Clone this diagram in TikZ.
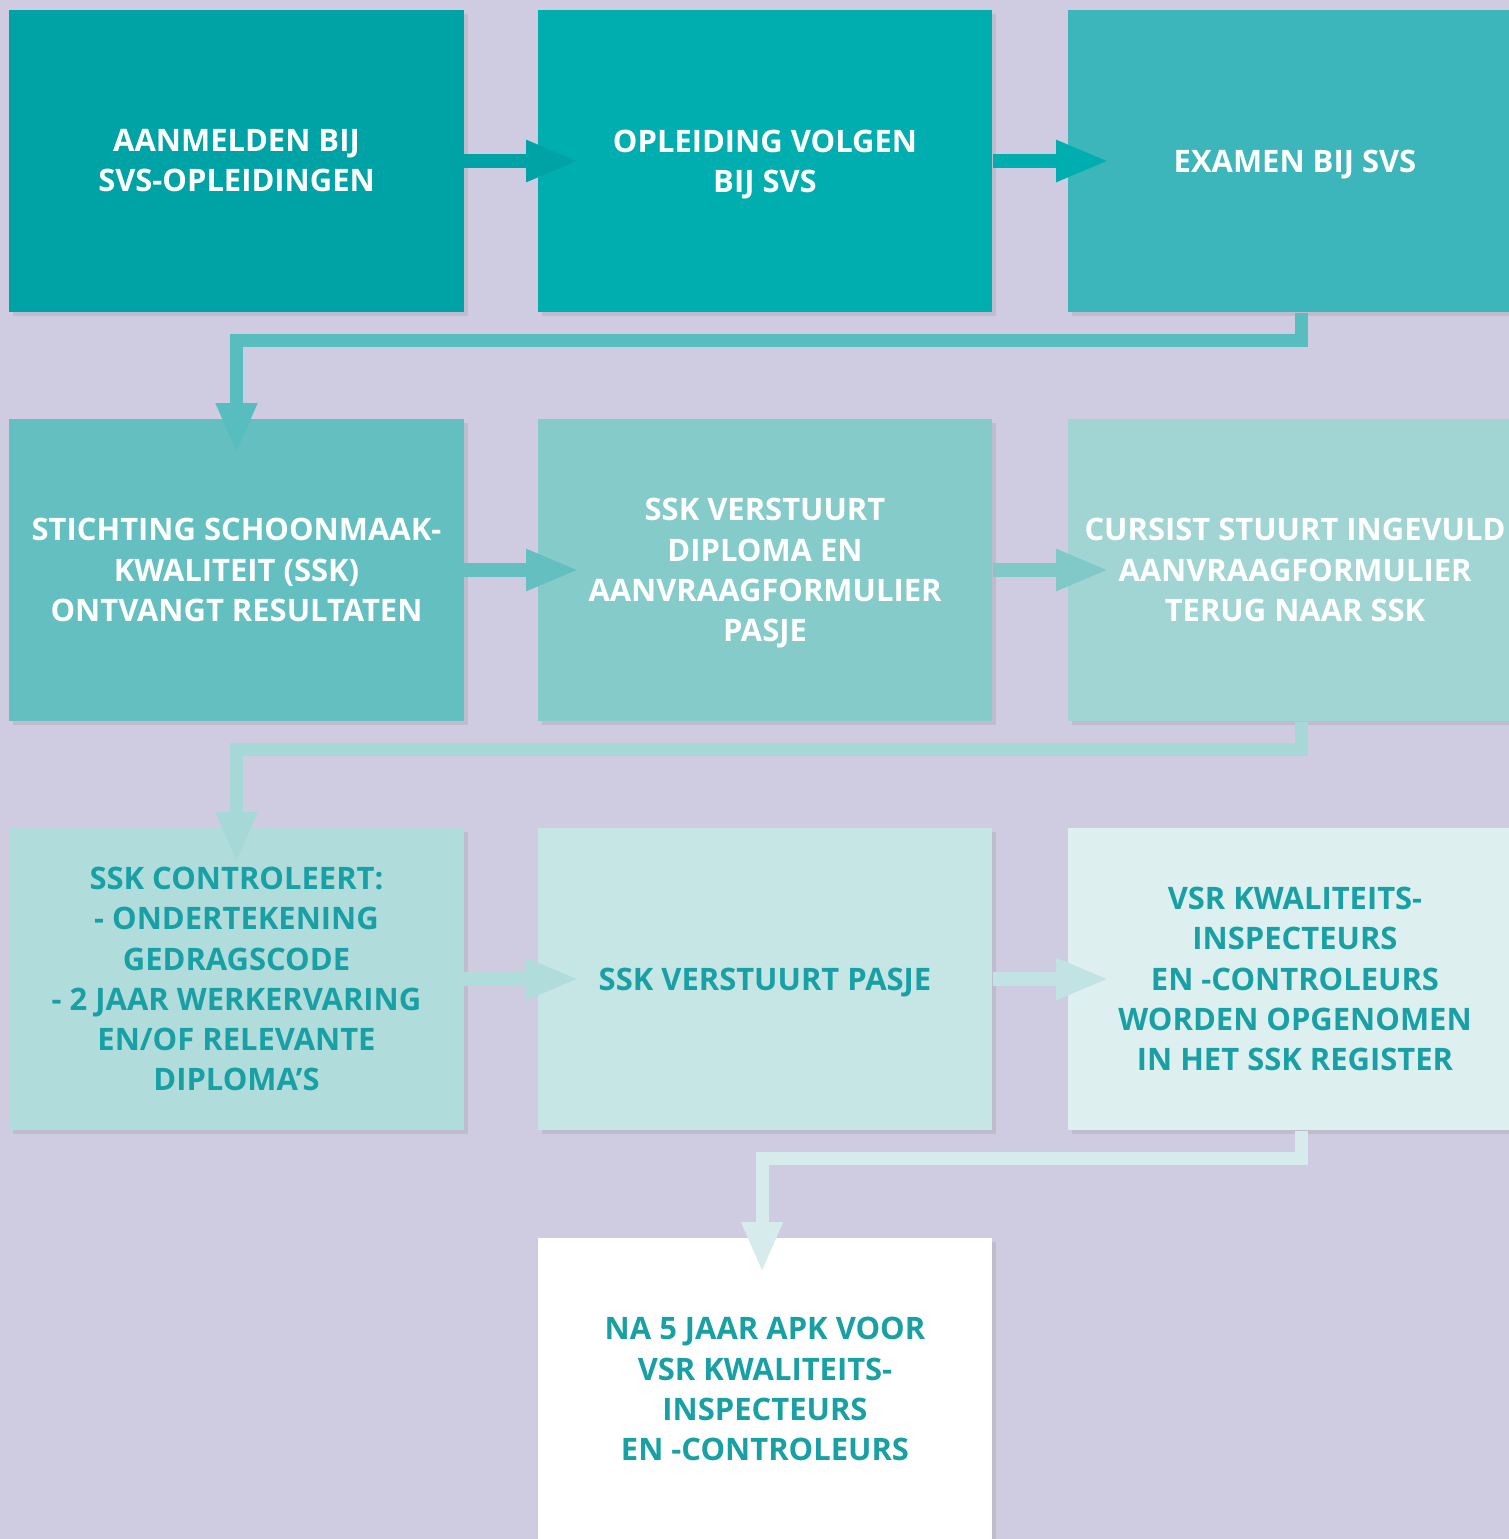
\documentclass[tikz,border=0pt]{standalone}
\usepackage{fontspec}
\setmainfont{Open Sans}
\usepackage{tikz}
\usetikzlibrary{arrows.meta,shadows,positioning,calc}

\definecolor{bgviolet}{RGB}{207,203,225}
\definecolor{ssktext}{RGB}{24,160,165}
\definecolor{stepA}{RGB}{0,163,165}
\definecolor{stepB}{RGB}{0,174,176}
\definecolor{stepC}{RGB}{60,182,186}
\definecolor{stepD}{RGB}{99,191,192}
\definecolor{stepE}{RGB}{133,203,202}
\definecolor{stepF}{RGB}{161,213,212}
\definecolor{stepG}{RGB}{177,220,220}
\definecolor{stepH}{RGB}{198,229,229}
\definecolor{stepI}{RGB}{221,239,239}
\definecolor{linkA}{RGB}{88,189,191}
\definecolor{linkB}{RGB}{166,216,216}
\definecolor{linkC}{RGB}{214,235,235}

% J without its tail below the line, so the text sits centred
\newcommand{\flatJ}{\smash{J}}

\begin{document}
\begin{tikzpicture}[x=0.01cm,y=-0.01cm]
		\tikzstyle{stepbox}=[rectangle,inner sep=0pt,minimum width=4.54cm,minimum height=3.02cm,align=center,
			font=\fontsize{8.8}{11.4}\selectfont\bfseries,drop shadow={shadow xshift=0.04cm,shadow yshift=-0.04cm,opacity=0.2}]
		\tikzstyle{light}=[stepbox,text=white]
		\tikzstyle{dark}=[stepbox,text=ssktext]
		\tikzstyle{hop}=[line width=0.14cm,-{Triangle[length=0.53cm,width=0.38cm]},shorten >=-0.42cm]
		\tikzstyle{link}=[line width=0.13cm,line join=miter,-{Triangle[length=0.5cm,width=0.38cm]},shorten >=-0.35cm]

		\fill[bgviolet] (0,0) rectangle (1509,1539);
		\useasboundingbox (0,0) rectangle (1509,1539);

		% first row
		\node[light,fill=stepA](aanmelden) at (236.5,161){AANMELDEN BIJ\\SVS-OPLEIDINGEN};
		\node[light,fill=stepB](opleiding) at (765,161){OPLEIDING VOLGEN\\BI\flatJ{} SVS};
		\node[light,fill=stepC](examen) at (1295,161){EXAMEN BI\flatJ{} SVS};

		% second row
		\node[light,fill=stepD](ontvangt) at (236.5,570){STICHTING SCHOONMAAK-\\KWALITEIT (SSK)\\ONTVANGT RESULTATEN};
		\node[light,fill=stepE](diploma) at (765,570){SSK VERSTUURT\\DIPLOMA EN\\AANVRAAGFORMULIER\\PAS\flatJ{}E};
		\node[light,fill=stepF](cursist) at (1295,570){CURSIST STUURT INGEVULD\\AANVRAAGFORMULIER\\TERUG NAAR SSK};

		% third row
		\node[dark,fill=stepG](controle) at (236.5,979){SSK CONTROLEERT:\\- ONDERTEKENING\\GEDRAGSCODE\\- 2 JAAR WERKERVARING\\EN/OF RELEVANTE\\DIPLOMA’S};
		\node[dark,fill=stepH](pasje) at (765,979){SSK VERSTUURT PAS\flatJ{}E};
		\node[dark,fill=stepI](register) at (1295,979){VSR KWALITEITS-\\INSPECTEURS\\EN -CONTROLEURS\\WORDEN OPGENOMEN\\IN HET SSK REGISTER};

		% last one
		\node[dark,fill=white](apk) at (765,1389){NA 5 JAAR APK VOOR\\VSR KWALITEITS-\\INSPECTEURS\\EN -CONTROLEURS};

		\draw[hop,stepA] (aanmelden) -- (opleiding);
		\draw[hop,stepB] (opleiding) -- (examen);
		\draw[hop,stepD] (ontvangt) -- (diploma);
		\draw[hop,stepE!85!stepD] (diploma) -- (cursist);
		\draw[hop,stepG] (controle) -- (pasje);
		\draw[hop,stepH!80!stepG] (pasje) -- (register);

		\draw[link,linkA] ([xshift=0.06cm]examen.south) -- ++(0,28) -| (ontvangt.north);
		\draw[link,linkB] ([xshift=0.06cm]cursist.south) -- ++(0,28) -| (controle.north);
		\draw[link,linkC] ([xshift=0.06cm]register.south) -- ++(0,28) -| ([xshift=-0.03cm]apk.north);
	\end{tikzpicture}
\end{document}
